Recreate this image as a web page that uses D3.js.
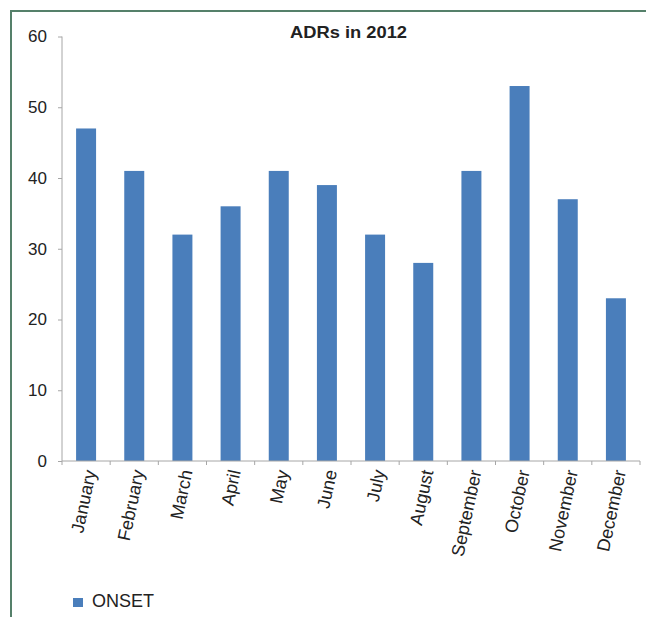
<!DOCTYPE html>
<html><head><meta charset="utf-8">
<script src="https://cdn.jsdelivr.net/npm/d3@7"></script>
<style>body{margin:0;background:#fff}svg{display:block;font-family:"Liberation Sans",Arial,sans-serif}</style>
</head><body><svg id="c" width="646" height="617"></svg>
<script>
const months = ["January","February","March","April","May","June","July","August","September","October","November","December"];
const onset = [47,41,32,36,41,39,32,28,41,53,37,23];
const yTicks = [0,10,20,30,40,50,60];
const seriesName = "ONSET";
const title = "ADRs in 2012";

const svg = d3.select("#c");
// frame
svg.append("line").attr("x1",11).attr("x2",646).attr("y1",11).attr("y2",11).attr("stroke","#55806a").attr("stroke-width",2);
svg.append("line").attr("x1",11).attr("x2",11).attr("y1",10).attr("y2",617).attr("stroke","#55806a").attr("stroke-width",2);

const x = d3.scaleBand().domain(months).range([62,640]).paddingInner(0.585).paddingOuter(0.2925);
const xb = d3.scaleBand().domain(months).range([62,640]);
const y = d3.scaleLinear().domain([0,60]).range([461,36.5]);

svg.append("text").attr("x",348.5).attr("y",37.5).attr("text-anchor","middle").attr("font-weight","bold").attr("font-size",16.5)
  .attr("textLength",117).attr("lengthAdjust","spacingAndGlyphs").attr("fill","#222").text(title);

svg.selectAll("rect.bar").data(onset).join("rect").attr("class","bar")
  .attr("x",(d,i)=>x(months[i])).attr("width",x.bandwidth())
  .attr("y",d=>y(d)).attr("height",d=>y(0)-y(d)).attr("fill","#4a7ebb");

// y axis
const ya = svg.append("g").attr("transform","translate(62,0)").call(d3.axisLeft(y).tickValues(yTicks).tickSize(4).tickPadding(11));
ya.select(".domain").attr("stroke","#a6a6a6").attr("d","M0,36.5V461");
ya.selectAll(".tick line").attr("stroke","#a6a6a6");
ya.selectAll(".tick text").attr("font-size",17).attr("fill","#222").attr("font-family","Liberation Sans, Arial, sans-serif");

// x axis
const xg = svg.append("g").attr("transform","translate(0,461)");
xg.append("line").attr("x1",62).attr("x2",640).attr("stroke","#a6a6a6");
const bounds = months.map(m=>xb(m)).concat([640]);
xg.selectAll("line.t").data(bounds).join("line").attr("class","t").attr("x1",d=>d).attr("x2",d=>d).attr("y1",0).attr("y2",4).attr("stroke","#a6a6a6");
xg.selectAll("text").data(months).join("text")
  .attr("transform",m=>`translate(${xb(m)+xb.bandwidth()/2+4},9) rotate(-78)`)
  .attr("text-anchor","end").attr("dy","0.35em").attr("font-size",18).attr("fill","#222").text(d=>d);

// legend
svg.append("rect").attr("x",73).attr("y",598).attr("width",10).attr("height",9).attr("fill","#4a7ebb");
svg.append("text").attr("x",92).attr("y",607).attr("font-size",18).attr("fill","#222").text(seriesName);
</script></body></html>
